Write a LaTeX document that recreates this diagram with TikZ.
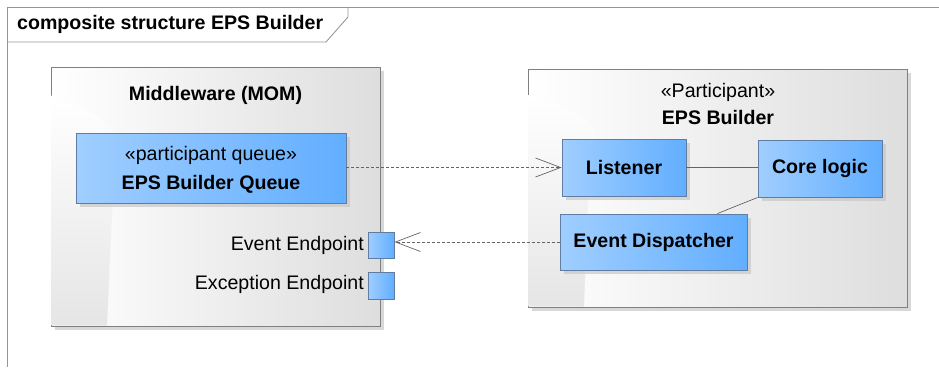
\documentclass[tikz,border=0pt]{standalone}
\usepackage{fontspec}
\setmainfont{Liberation Sans}
\usetikzlibrary{arrows.meta,shadows,calc}
\definecolor{bluel}{RGB}{160,206,255}
\definecolor{bluer}{RGB}{98,174,255}
\definecolor{blueborder}{RGB}{96,124,160}
\definecolor{frameline}{RGB}{150,150,150}
\definecolor{boxline}{RGB}{128,128,128}
\definecolor{conline}{RGB}{100,100,100}
\tikzset{
  txt/.style={font=\fontsize{19.6}{23}\selectfont},
  btxt/.style={font=\fontsize{19.6}{23}\selectfont\bfseries},
  container/.style={draw=boxline, line width=0.8pt, left color=white, middle color=white, right color=black!13,
     drop shadow={shadow xshift=4pt, shadow yshift=-4pt, fill=black!22, opacity=0.7}},
  band/.style={top color=white, bottom color=black!10},
  part/.style={draw=blueborder, line width=0.9pt, left color=bluel, right color=bluer,
     drop shadow={shadow xshift=4pt, shadow yshift=-4pt, fill=black!22, opacity=0.7},
     align=center, inner sep=0pt},
  port/.style={draw=blueborder, line width=0.9pt, left color=bluel, right color=bluer, inner sep=0pt},
  dep/.style={draw=conline, line width=0.7pt, dash pattern=on 3pt off 2pt,
     -{Straight Barb[length=25pt,width=19pt,line width=0.7pt]}},
  assoc/.style={draw=conline, line width=0.7pt}
}
\begin{document}
\begin{tikzpicture}[x=1pt,y=-1pt]
\useasboundingbox (0,0) rectangle (939,367);
% frame
\draw[frameline, line width=0.9pt] (939,7) -- (7,7) -- (7,367);
\draw[frameline, line width=0.9pt] (7,42) -- (326,42) -- (348,17) -- (348,7);
\node[btxt, anchor=west, inner sep=0pt] (title) at (17,24) {composite structure EPS Builder};
% containers
\node[container, minimum width=329pt, minimum height=259pt, inner sep=0pt] (mom) at (215.5,196.5) {};
\shade[band] (51.5,95) -- (51.5,325.5) -- (107,325.5) .. controls (110,260) and (112,190) .. (118,140) .. controls (110,118) and (75,102) .. (51.5,95) -- cycle;
\node[btxt] (momt) at (215.5,95) {Middleware (MOM)};
\node[container, minimum width=379pt, minimum height=238pt, inner sep=0pt] (eps) at (717.5,188) {};
\shade[band] (528.5,95) -- (528.5,306.5) -- (584,306.5) .. controls (586,250) and (588,180) .. (594,130) .. controls (585,113) and (552,101) .. (528.5,95) -- cycle;
\node[txt, inner sep=0pt] (epss) at (718,92) {«Participant»};
\node[btxt, inner sep=0pt] (epst) at (718,117) {EPS Builder};
% parts
\node[part, minimum width=270pt, minimum height=70pt] (queue) at (211,168) {};
\node[txt, inner sep=0pt] (queues) at (211,155) {«participant queue»};
\node[btxt, inner sep=0pt] (queuet) at (211,184) {EPS Builder Queue};
\node[part, btxt, minimum width=124pt, minimum height=57pt] (listener) at (624,167.5) {Listener};
\node[part, btxt, minimum width=124pt, minimum height=57pt] (core) at (820,168.5) {Core logic};
\node[part, btxt, minimum width=187pt, minimum height=56pt] (disp) at (653.5,242) {Event Dispatcher};
% ports
\node[port, minimum width=26pt, minimum height=26pt] (evp) at (381,245) {};
\node[port, minimum width=26pt, minimum height=27pt] (exp) at (381,285.5) {};
\node[txt, anchor=east, inner sep=0pt] (evl) at (364,245) {Event Endpoint};
\node[txt, anchor=east, inner sep=0pt] (exl) at (364,284) {Exception Endpoint};
% connectors
\coordinate (dtop) at ($(disp.north east)+(-30,0)$);
\draw[assoc] (listener.east) -- (listener.east -| core.west);
\draw[assoc] (core.south west) -- (dtop);
\draw[dep] (queue.east |- listener.west) -- (listener.west);
\draw[dep] (disp.west) -- (evp.east |- disp.west);
\end{tikzpicture}
\end{document}
